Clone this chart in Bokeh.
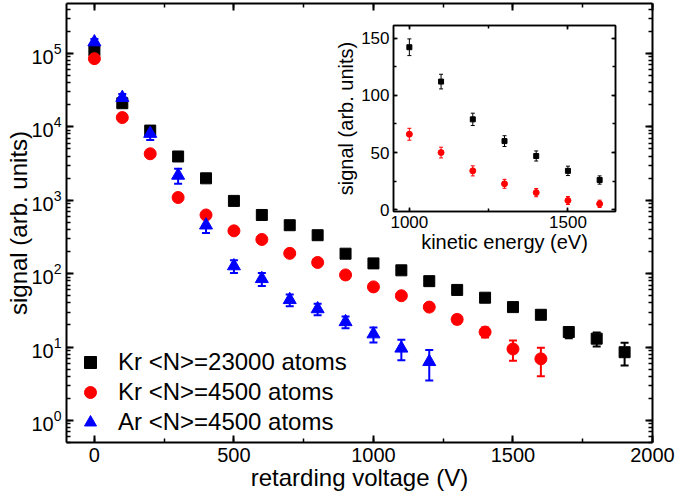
from bokeh.plotting import figure
from bokeh.models import (ColumnDataSource, Whisker, LogAxis, LinearAxis, SingleIntervalTicker,
                          LogTicker, Range1d, Legend, LegendItem, TeeHead, CustomJSTickFormatter)
from bokeh.layouts import column
from bokeh.embed import file_html
from bokeh.resources import INLINE

# ---------------- data ----------------
voltage_kr23000 = [0, 100, 200, 300, 400, 500, 600, 700, 800, 900, 1000,
                   1100, 1200, 1300, 1400, 1500, 1600, 1700, 1800, 1900]
signal_kr23000 = [110000, 21000, 8900, 3950, 1990, 980, 630, 457, 334, 187, 138,
                  111, 79, 60, 47, 35, 27.5, 16, 13, 8.5]
err_kr23000 = [5500, 1100, 450, 200, 100, 50, 32, 23, 17, 9, 7,
               6, 5, 4.5, 4, 4, 3, 2.8, 2.8, 2.9]

voltage_kr4500 = [0, 100, 200, 300, 400, 500, 600, 700, 800, 900, 1000,
                  1100, 1200, 1300, 1400, 1500, 1600]
signal_kr4500 = [85000, 13400, 4300, 1090, 630, 383, 292, 189, 142, 96, 66,
                 50, 35, 23.8, 16, 9.4, 6.9]
err_kr4500 = [4000, 700, 220, 55, 32, 20, 15, 10, 7, 5, 4.5,
              4, 3.5, 3, 2.5, 2.9, 2.9]

voltage_ar4500 = [0, 100, 200, 300, 400, 500, 600, 700, 800, 900, 1000, 1100, 1200]
signal_ar4500 = [143000, 25000, 8100, 2180, 457, 127, 85, 44, 33, 22, 15, 9.6, 6.3]
err_ar4500 = [14000, 3000, 1500, 500, 100, 25, 17, 8, 6, 4, 3.5, 3, 2.8]

inset_energy = [1000, 1100, 1200, 1300, 1400, 1500, 1600]
inset_kr23000 = [142, 112, 79, 60, 47, 34, 26]
inset_kr23000_err = [7.3, 6.4, 5.4, 4.7, 4.4, 4.1, 3.6]
inset_kr4500 = [66, 50, 34, 22.7, 15, 8.1, 5.2]
inset_kr4500_err = [5.2, 4.7, 4.4, 3.9, 3.6, 3.5, 3.2]

labels = ["Kr <N>=23000 atoms", "Kr <N>=4500 atoms", "Ar <N>=4500 atoms"]
colors = ["#000000", "#ff0000", "#0000ff"]

FONT = "Liberation Sans"
BLANK = CustomJSTickFormatter(code="return ''")

# ---------------- main figure ----------------
MAIN_W, MAIN_H = 675, 495
p = figure(width=MAIN_W, height=MAIN_H, x_range=Range1d(-100, 2000),
           y_range=Range1d(0.5, 4.8e5), y_axis_type="log",
           output_backend="svg", toolbar_location=None,
           min_border_left=66, min_border_right=23, min_border_top=3,
           min_border_bottom=53)
p.grid.visible = False
p.outline_line_color = None
p.background_fill_color = "white"
p.border_fill_color = "white"

x_ticker = SingleIntervalTicker(interval=500, num_minor_ticks=2)
y_ticker = LogTicker(num_minor_ticks=10)


def style_axis(ax, labels_visible=True, major_in=7, minor_in=4, lw=2,
               tick_size="20px", title_size="24px"):
    ax.axis_line_width = lw
    ax.axis_line_color = "black"
    ax.major_tick_in = major_in
    ax.major_tick_out = 0
    ax.minor_tick_in = minor_in
    ax.minor_tick_out = 0
    ax.major_tick_line_width = lw
    ax.minor_tick_line_width = 1.5
    ax.major_tick_line_color = "black"
    ax.minor_tick_line_color = "black"
    ax.major_label_text_font = FONT
    ax.axis_label_text_font = FONT
    ax.axis_label_text_font_style = "normal"
    ax.major_label_text_color = "black"
    ax.axis_label_text_color = "black"
    ax.major_label_text_font_size = tick_size
    ax.axis_label_text_font_size = title_size
    if not labels_visible:
        ax.formatter = BLANK
        ax.major_label_standoff = 0
        ax.major_label_text_font_size = "1px"


xb = p.below[0]
xb.ticker = x_ticker
xb.axis_label = "retarding voltage (V)"
style_axis(xb)
xb.major_label_standoff = 5
xb.axis_label_standoff = -1

yl = p.left[0]
yl.ticker = y_ticker
yl.axis_label = "signal (arb. units)"
style_axis(yl)
yl.major_label_standoff = 5
yl.axis_label_standoff = -4

xt = LinearAxis(ticker=x_ticker)
style_axis(xt, labels_visible=False)
p.add_layout(xt, "above")
yr = LogAxis(ticker=y_ticker)
style_axis(yr, labels_visible=False)
p.add_layout(yr, "right")

series = [
    (voltage_kr23000, signal_kr23000, err_kr23000, "square", 11),
    (voltage_kr4500, signal_kr4500, err_kr4500, "circle", 12),
    (voltage_ar4500, signal_ar4500, err_ar4500, "triangle", 13),
]
items = []
for (xs, ys, es, marker, size), lab, col in zip(series, labels, colors):
    src = ColumnDataSource(dict(x=xs, y=ys,
                                lo=[y - e for y, e in zip(ys, es)],
                                hi=[y + e for y, e in zip(ys, es)]))
    w = Whisker(base="x", lower="lo", upper="hi", source=src,
                line_color=col, line_width=2,
                upper_head=TeeHead(size=8, line_color=col, line_width=2),
                lower_head=TeeHead(size=8, line_color=col, line_width=2))
    p.add_layout(w)
    r = p.scatter("x", "y", source=src, marker=marker, size=size,
                  fill_color=col, line_color=col)
    items.append(LegendItem(label=lab, renderers=[r]))

legend = Legend(items=items, location=(9, 5), border_line_color=None,
                background_fill_alpha=0, label_text_font=FONT,
                label_text_font_size="24px", label_text_color="black",
                glyph_width=30, glyph_height=30, label_height=30,
                label_standoff=13, spacing=0, padding=2, margin=0)
p.add_layout(legend)

# ---------------- inset ----------------
INS_LEFT, INS_RIGHT, INS_TOP, INS_BOTTOM = 66, 10, 3, 48
ins = figure(width=INS_LEFT + 235 + INS_RIGHT, height=INS_TOP + 186 + INS_BOTTOM,
             x_range=Range1d(950, 1650), y_range=Range1d(-1.5, 161),
             output_backend="svg", toolbar_location=None,
             min_border_left=INS_LEFT, min_border_right=INS_RIGHT,
             min_border_top=INS_TOP, min_border_bottom=INS_BOTTOM)
ins.grid.visible = False
ins.outline_line_color = "black"
ins.outline_line_width = 1.5
ins.background_fill_alpha = 0
ins.border_fill_alpha = 0

ix_ticker = SingleIntervalTicker(interval=500, num_minor_ticks=2)
iy_ticker = SingleIntervalTicker(interval=50, num_minor_ticks=2)

ixb = ins.below[0]
ixb.ticker = ix_ticker
ixb.axis_label = "kinetic energy (eV)"
style_axis(ixb, major_in=4, minor_in=3, lw=1.5, tick_size="17px", title_size="20px")
ixb.major_label_standoff = 4
ixb.axis_label_standoff = 0

iyl = ins.left[0]
iyl.ticker = iy_ticker
iyl.axis_label = "signal (arb. units)"
style_axis(iyl, major_in=4, minor_in=3, lw=1.5, tick_size="17px", title_size="20px")
iyl.major_label_standoff = 4
iyl.axis_label_standoff = 1

ixt = LinearAxis(ticker=ix_ticker)
style_axis(ixt, labels_visible=False, major_in=4, minor_in=3, lw=1.5)
ins.add_layout(ixt, "above")
iyr = LinearAxis(ticker=iy_ticker)
style_axis(iyr, labels_visible=False, major_in=4, minor_in=3, lw=1.5)
ins.add_layout(iyr, "right")

inset_series = [
    (inset_kr23000, inset_kr23000_err, "square", 5, colors[0]),
    (inset_kr4500, inset_kr4500_err, "circle", 6, colors[1]),
]
for ys, es, marker, size, col in inset_series:
    src = ColumnDataSource(dict(x=inset_energy, y=ys,
                                lo=[y - e for y, e in zip(ys, es)],
                                hi=[y + e for y, e in zip(ys, es)]))
    ins.add_layout(Whisker(base="x", lower="lo", upper="hi", source=src,
                           line_color=col, line_width=1,
                           upper_head=TeeHead(size=4, line_color=col, line_width=1),
                           lower_head=TeeHead(size=4, line_color=col, line_width=1)))
    ins.scatter("x", "y", source=src, marker=marker, size=size,
                fill_color=col, line_color=col)

# overlay the inset on top of the main plot
ins.margin = (-(MAIN_H) + 22, 0, 0, 327)

layout = column(p, ins)

open("out.html", "w").write(file_html(layout, INLINE))
